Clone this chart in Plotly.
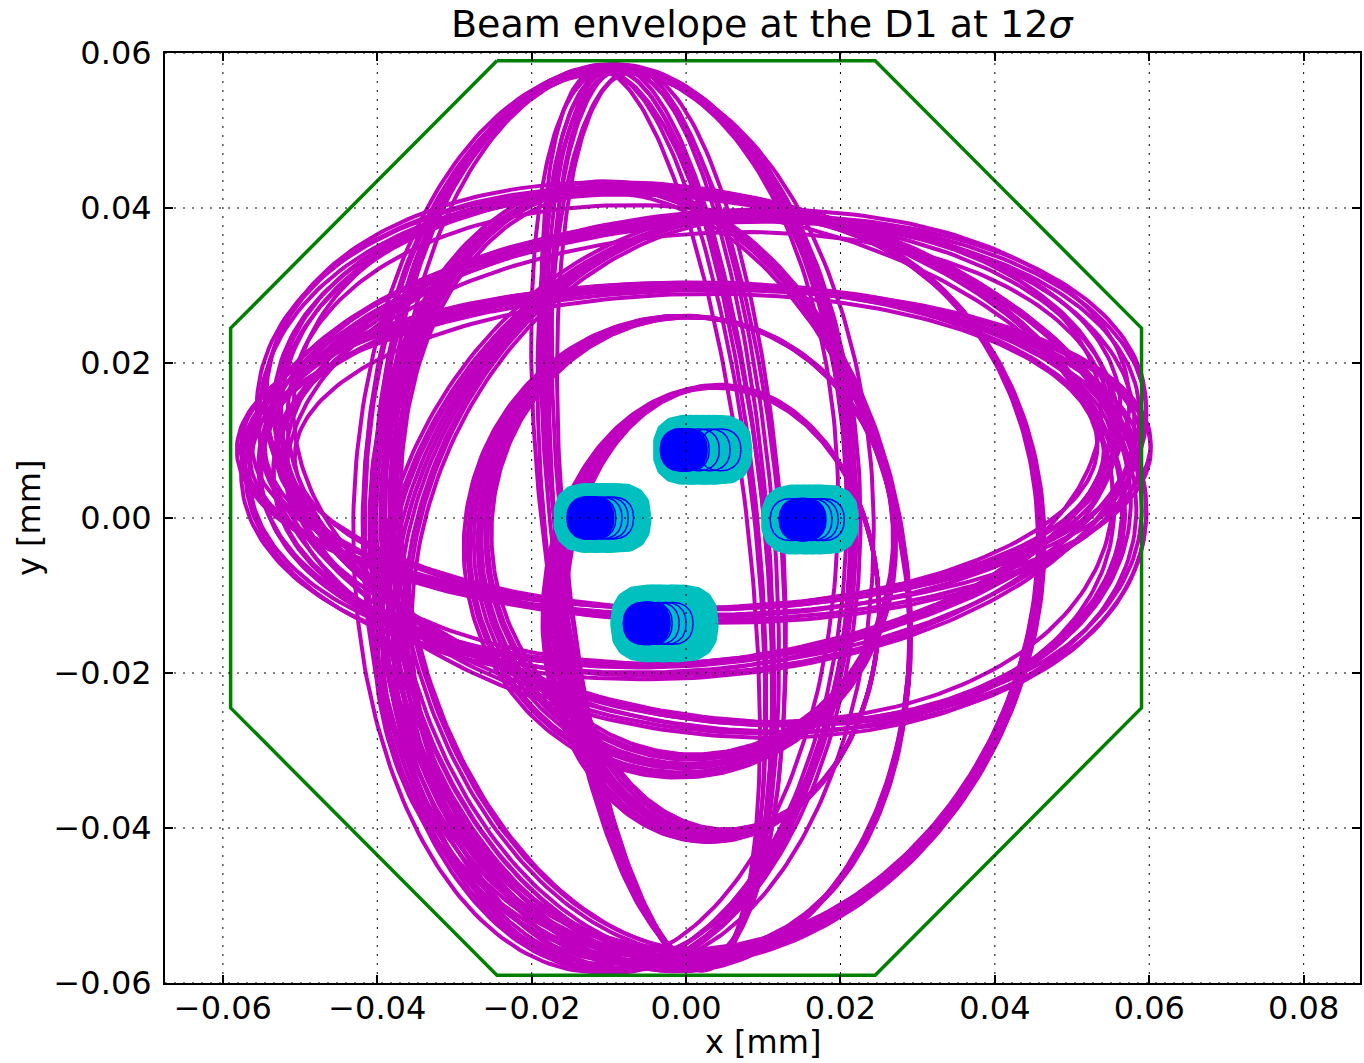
import numpy as np
import plotly.graph_objects as go

# ---------------- data ----------------
X_TICKS = [-0.06, -0.04, -0.02, 0.00, 0.02, 0.04, 0.06, 0.08]
X_TICK_TEXT = ["\u22120.06", "\u22120.04", "\u22120.02", "0.00", "0.02", "0.04", "0.06", "0.08"]
Y_TICKS = [-0.06, -0.04, -0.02, 0.00, 0.02, 0.04, 0.06]
Y_TICK_TEXT = ["\u22120.06", "\u22120.04", "\u22120.02", "0.00", "0.02", "0.04", "0.06"]

# aperture (octagon) vertices
APERTURE_X = [-0.0245, 0.0245, 0.0590, 0.0590, 0.0245, -0.0245, -0.0590, -0.0590, -0.0245]
APERTURE_Y = [0.0590, 0.0590, 0.0245, -0.0245, -0.0590, -0.0590, -0.0245, 0.0245, 0.0590]

# 12-sigma envelopes, one family per optics, one entry per turn:
# centre (CX, CY), semi-axis A along direction ANG (deg), semi-axis B perpendicular
H1_CX = [0.0010, 0.0014, 0.0006, 0.0012, 0.0008, 0.0016, 0.0004, 0.0011, 0.0009, 0.0013]
H1_CY = [0.0088, 0.0091, 0.0085, 0.0089, 0.0093, 0.0084, 0.0090, 0.0087, 0.0092, 0.0086]
H1_A = [0.0592, 0.0588, 0.0583, 0.0577, 0.0570, 0.0562, 0.0553, 0.0543, 0.0532, 0.0520]
H1_B = [0.0213, 0.0208, 0.0217, 0.0205, 0.0211, 0.0219, 0.0207, 0.0215, 0.0210, 0.0203]
H1_ANG = [0.0, 0.6, -0.6, 1.2, 0.0, -1.2, 0.6, 0.0, -0.6, 0.9]

H2_CX = [0.0010, 0.0015, 0.0005, 0.0018, 0.0012, 0.0003, 0.0014, 0.0008, 0.0017, 0.0010]
H2_CY = [0.0095, 0.0100, 0.0090, 0.0097, 0.0104, 0.0092, 0.0099, 0.0088, 0.0102, 0.0096]
H2_A = [0.0588, 0.0583, 0.0577, 0.0571, 0.0565, 0.0558, 0.0551, 0.0544, 0.0537, 0.0530]
H2_B = [0.0291, 0.0286, 0.0296, 0.0282, 0.0289, 0.0294, 0.0284, 0.0278, 0.0288, 0.0293]
H2_ANG = [5.0, 5.8, 4.2, 5.0, 6.5, 3.6, 5.8, 5.0, 4.2, 6.5]

H3_CX = [0.0020, 0.0025, 0.0015, 0.0028, 0.0012, 0.0022, 0.0018, 0.0026, 0.0014, 0.0023]
H3_CY = [0.0075, 0.0080, 0.0070, 0.0077, 0.0083, 0.0072, 0.0078, 0.0068, 0.0081, 0.0076]
H3_A = [0.0582, 0.0578, 0.0573, 0.0568, 0.0563, 0.0558, 0.0553, 0.0548, 0.0543, 0.0538]
H3_B = [0.0341, 0.0336, 0.0346, 0.0331, 0.0339, 0.0344, 0.0334, 0.0327, 0.0338, 0.0343]
H3_ANG = [-10.0, -10.8, -9.2, -10.0, -11.5, -8.6, -10.8, -10.0, -9.2, -11.5]

V1_CX = [-0.0035, -0.0029, -0.0041, -0.0024, -0.0046, -0.0032, -0.0038, -0.0027, -0.0043, -0.0035]
V1_CY = [0.0000, 0.0003, -0.0003, 0.0002, -0.0002, 0.0004, 0.0000, -0.0003, 0.0002, -0.0004]
V1_A = [0.0585, 0.0583, 0.0580, 0.0578, 0.0584, 0.0576, 0.0582, 0.0579, 0.0577, 0.0583]
V1_B = [0.0135, 0.0141, 0.0129, 0.0147, 0.0124, 0.0152, 0.0138, 0.0132, 0.0144, 0.0127]
V1_ANG = [95.7, 95.0, 96.4, 94.5, 96.9, 95.3, 96.1, 94.8, 96.6, 95.7]

V2_CX = [-0.0095, -0.0089, -0.0101, -0.0084, -0.0106, -0.0092, -0.0098, -0.0087, -0.0103, -0.0095]
V2_CY = [0.0000, 0.0003, -0.0003, 0.0002, -0.0002, 0.0004, 0.0000, -0.0003, 0.0002, -0.0004]
V2_A = [0.0585, 0.0583, 0.0580, 0.0578, 0.0584, 0.0576, 0.0582, 0.0579, 0.0577, 0.0583]
V2_B = [0.0310, 0.0303, 0.0318, 0.0296, 0.0325, 0.0313, 0.0306, 0.0330, 0.0300, 0.0321]
V2_ANG = [90.0, 90.8, 89.2, 91.3, 88.7, 90.4, 89.6, 91.0, 89.0, 90.0]

D1_CX = [-0.0050, -0.0044, -0.0056, -0.0040, -0.0060, -0.0047, -0.0053, -0.0042, -0.0058, -0.0050]
D1_CY = [-0.0072, -0.0068, -0.0076, -0.0070, -0.0075, -0.0071, -0.0073, -0.0066, -0.0078, -0.0072]
D1_A = [0.0505, 0.0501, 0.0509, 0.0497, 0.0513, 0.0503, 0.0507, 0.0499, 0.0511, 0.0504]
D1_B = [0.0332, 0.0325, 0.0339, 0.0319, 0.0345, 0.0329, 0.0336, 0.0322, 0.0342, 0.0334]
D1_ANG = [101.0, 102.0, 100.0, 102.8, 99.2, 101.5, 100.5, 102.4, 99.6, 101.0]

R2_CX = [0.0040, 0.0046, 0.0034, 0.0050, 0.0030, 0.0043, 0.0037, 0.0048, 0.0032, 0.0040]
R2_CY = [-0.0088, -0.0084, -0.0092, -0.0085, -0.0091, -0.0087, -0.0089, -0.0082, -0.0094, -0.0088]
R2_A = [0.0489, 0.0485, 0.0493, 0.0481, 0.0497, 0.0487, 0.0491, 0.0483, 0.0495, 0.0488]
R2_B = [0.0409, 0.0402, 0.0416, 0.0396, 0.0422, 0.0406, 0.0412, 0.0399, 0.0419, 0.0409]
R2_ANG = [69.0, 70.3, 67.7, 71.2, 66.8, 69.6, 68.4, 70.8, 67.2, 69.0]

M_CX = [0.0000, 0.0005, -0.0005, 0.0008, -0.0008, 0.0003, -0.0003, 0.0006, -0.0006, 0.0001]
M_CY = [-0.0030, -0.0026, -0.0034, -0.0023, -0.0037, -0.0029, -0.0031, -0.0025, -0.0035, -0.0030]
M_A = [0.0270, 0.0265, 0.0275, 0.0260, 0.0280, 0.0268, 0.0272, 0.0263, 0.0277, 0.0270]
M_B = [0.0290, 0.0286, 0.0294, 0.0282, 0.0298, 0.0288, 0.0292, 0.0284, 0.0296, 0.0290]
M_ANG = [0.0, 2.0, -2.0, 3.0, -3.0, 1.0, -1.0, 2.5, -2.5, 0.0]

I_CX = [0.0040, 0.0044, 0.0036, 0.0048, 0.0032, 0.0042, 0.0038, 0.0046, 0.0034, 0.0040]
I_CY = [-0.0120, -0.0117, -0.0123, -0.0116, -0.0124, -0.0119, -0.0121, -0.0115, -0.0125, -0.0120]
I_A = [0.0210, 0.0206, 0.0214, 0.0202, 0.0218, 0.0208, 0.0212, 0.0204, 0.0216, 0.0210]
I_B = [0.0290, 0.0288, 0.0292, 0.0286, 0.0294, 0.0289, 0.0291, 0.0287, 0.0293, 0.0290]
I_ANG = [0.0, 1.0, -1.0, 1.8, -1.8, 0.5, -0.5, 1.3, -1.3, 0.0]

ENVELOPES = [
    (H1_CX, H1_CY, H1_A, H1_B, H1_ANG),
    (H2_CX, H2_CY, H2_A, H2_B, H2_ANG),
    (H3_CX, H3_CY, H3_A, H3_B, H3_ANG),
    (V1_CX, V1_CY, V1_A, V1_B, V1_ANG),
    (V2_CX, V2_CY, V2_A, V2_B, V2_ANG),
    (D1_CX, D1_CY, D1_A, D1_B, D1_ANG),
    (R2_CX, R2_CY, R2_A, R2_B, R2_ANG),
    (M_CX, M_CY, M_A, M_B, M_ANG),
    (I_CX, I_CY, I_A, I_B, I_ANG),
]

# beam cores (turn-by-turn): cyan = outer core, blue = inner core
T_Y = 0.0088
T_CYAN_X = [0.0002, 0.0010, 0.0018, 0.0026, 0.0034, 0.0041]
T_BLUE_X = [-0.0006, -0.0004, -0.0002, 0.0000, 0.0003, 0.0016, 0.0030, 0.0044]
L_Y = 0.0000
L_CYAN_X = [-0.0127, -0.0120, -0.0112, -0.0104, -0.0097, -0.0090]
L_BLUE_X = [-0.0127, -0.0125, -0.0123, -0.0121, -0.0118, -0.0110, -0.0102, -0.0095]
R_Y = -0.0002
R_CYAN_X = [0.0142, 0.0150, 0.0158, 0.0165, 0.0172, 0.0179]
R_BLUE_X = [0.0148, 0.0150, 0.0152, 0.0154, 0.0136, 0.0162, 0.0170, 0.0178]
B_Y = -0.0136
B_CYAN_X = [-0.0048, -0.0040, -0.0032, -0.0024, -0.0016, -0.0008]
B_BLUE_X = [-0.0054, -0.0052, -0.0050, -0.0048, -0.0045, -0.0036, -0.0027, -0.0018]

CYAN_R = 0.0040
B_CYAN_R = 0.0045
BLUE_R = 0.0027
N_DENSE = 4   # first circles of each blue list form the dense core

PURPLE = "#bf00bf"
CYAN = "#00bfbf"
BLUE = "#0000ff"
GREEN = "#008000"


def ellipse(cx, cy, a, b, ang_deg, n=260):
    t = np.linspace(0, 2 * np.pi, n)
    th = np.deg2rad(ang_deg)
    x = cx + a * np.cos(t) * np.cos(th) - b * np.sin(t) * np.sin(th)
    y = cy + a * np.cos(t) * np.sin(th) + b * np.sin(t) * np.cos(th)
    return x, y


def rounded(cx, cy, r, p=2.6, n=120):
    t = np.linspace(0, 2 * np.pi, n)
    c, s = np.cos(t), np.sin(t)
    x = cx + r * np.sign(c) * np.abs(c) ** (2 / p)
    y = cy + r * np.sign(s) * np.abs(s) ** (2 / p)
    return x, y


fig = go.Figure()

for cxs, cys, As, Bs, angs in ENVELOPES:
    xs, ys = [], []
    for cx, cy, a, b, an in zip(cxs, cys, As, Bs, angs):
        x, y = ellipse(cx, cy, a, b, an)
        xs += list(x) + [None]
        ys += list(y) + [None]
    fig.add_trace(go.Scatter(x=xs, y=ys, mode="lines",
                             line=dict(color=PURPLE, width=4.0), hoverinfo="skip"))

for cyan_x, yc, r in [(T_CYAN_X, T_Y, CYAN_R), (L_CYAN_X, L_Y, CYAN_R),
                      (R_CYAN_X, R_Y, CYAN_R), (B_CYAN_X, B_Y, B_CYAN_R)]:
    for cx in cyan_x:
        x, y = rounded(cx, yc, r)
        fig.add_trace(go.Scatter(x=x, y=y, mode="lines", fill="toself", fillcolor=CYAN,
                                 line=dict(color=CYAN, width=8), hoverinfo="skip"))

for blue_x, yc in [(T_BLUE_X, T_Y), (L_BLUE_X, L_Y), (R_BLUE_X, R_Y), (B_BLUE_X, B_Y)]:
    for k, cx in enumerate(blue_x):
        x, y = rounded(cx, yc, BLUE_R, p=2.3)
        dense = k < N_DENSE
        fig.add_trace(go.Scatter(x=x, y=y, mode="lines",
                                 fill="toself" if dense else "none", fillcolor=BLUE,
                                 line=dict(color=BLUE, width=2 if dense else 1.5),
                                 hoverinfo="skip"))

fig.add_trace(go.Scatter(x=APERTURE_X, y=APERTURE_Y, mode="lines",
                         line=dict(color=GREEN, width=3.5), hoverinfo="skip"))

shapes = []
for v in X_TICKS:
    shapes.append(dict(type="line", xref="x", yref="paper", x0=v, x1=v, y0=0, y1=1,
                       layer="above", line=dict(color="black", width=1, dash="2px,7px")))
for v in Y_TICKS:
    shapes.append(dict(type="line", xref="paper", yref="y", x0=0, x1=1, y0=v, y1=v,
                       layer="above", line=dict(color="black", width=1, dash="2px,7px")))

FONT = "DejaVu Sans"
axis_common = dict(showgrid=False, zeroline=False, showline=True, linecolor="black",
                   linewidth=2, mirror="allticks", ticks="inside", ticklen=8,
                   tickwidth=1.5, tickcolor="black",
                   tickfont=dict(family=FONT, size=32, color="black"))

fig.update_layout(
    width=1364, height=1063,
    margin=dict(l=165, r=2, t=53, b=80),
    paper_bgcolor="white", plot_bgcolor="white",
    showlegend=False,
    shapes=shapes,
    xaxis=dict(range=[-0.0675, 0.0873], tickvals=X_TICKS, ticktext=X_TICK_TEXT,
               ticklabelstandoff=-4, **axis_common),
    yaxis=dict(range=[-0.06, 0.06], tickvals=Y_TICKS, ticktext=Y_TICK_TEXT,
               ticklabelstandoff=5, **axis_common),
    annotations=[
        dict(text="Beam envelope at the D1 at 12<i>\u03c3</i>", x=0.5, y=1, xref="paper", yref="paper",
             xanchor="center", yanchor="bottom", yshift=5, showarrow=False,
             font=dict(family=FONT, size=38, color="black")),
        dict(text="x [mm]", x=0.5, y=0, xref="paper", yref="paper",
             xanchor="center", yanchor="top", yshift=-38, showarrow=False,
             font=dict(family=FONT, size=32, color="black")),
        dict(text="y [mm]", x=0, y=0.5, xref="paper", yref="paper", textangle=-90,
             xanchor="center", yanchor="middle", xshift=-136, showarrow=False,
             font=dict(family=FONT, size=32, color="black")),
    ],
)

fig.write_html("out.html")
